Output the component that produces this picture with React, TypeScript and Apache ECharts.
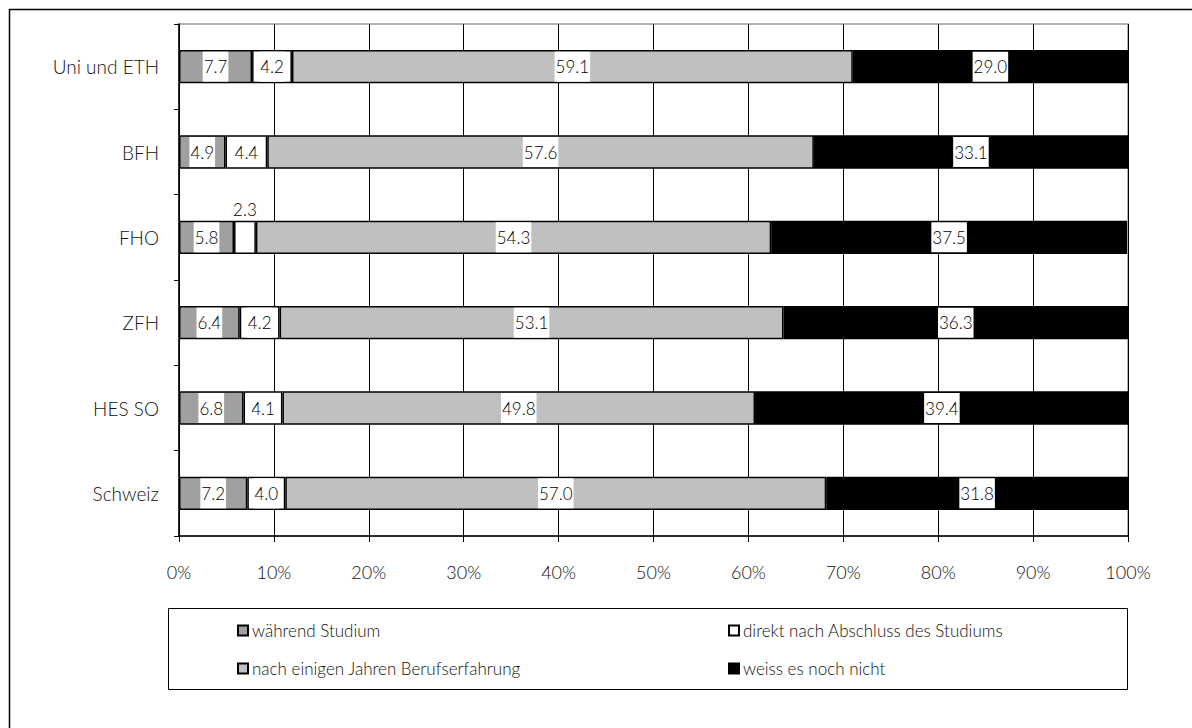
import React, { useEffect, useRef } from "react";
import * as echarts from "echarts";

const categories = ["Uni und ETH", "BFH", "FHO", "ZFH", "HES SO", "Schweiz"];
const seriesNames = [
  "während Studium",
  "direkt nach Abschluss des Studiums",
  "nach einigen Jahren Berufserfahrung",
  "weiss es noch nicht",
];
const waehrend = [7.7, 4.9, 5.8, 6.4, 6.8, 7.2];
const direkt = [4.2, 4.4, 2.3, 4.2, 4.1, 4.0];
const nachJahren = [59.1, 57.6, 54.3, 53.1, 49.8, 57.0];
const weissNicht = [29.0, 33.1, 37.5, 36.3, 39.4, 31.8];
const xTicks = [0, 10, 20, 30, 40, 50, 60, 70, 80, 90, 100];

const colors = ["#a0a0a0", "#ffffff", "#c0c0c0", "#000000"];
const FONT = "Lato";
const WEIGHT = 300;

export default function App() {
  const ref = useRef<HTMLDivElement>(null);
  useEffect(() => {
    if (!ref.current) return;
    const chart = echarts.init(ref.current, null, { renderer: "svg" });
    const valuesList = [waehrend, direkt, nachJahren, weissNicht];
    const series = seriesNames.map((name, i) => ({
      name,
      type: "bar",
      stack: "total",
      barWidth: "39%",
      itemStyle: { color: colors[i], borderColor: "#000", borderWidth: 1.5 },
      label: {
        show: true,
        position: "inside",
        formatter: (p: any) => Number(p.value).toFixed(1),
        color: "#000",
        fontFamily: FONT,
        fontWeight: WEIGHT,
        fontSize: 17,
        lineHeight: 17,
        backgroundColor: "#fff",
        padding: [7, 1, 6, 1],
      },
      data: valuesList[i].map((v) =>
        v < 3
          ? {
              value: v,
              label: { position: "top", distance: 3, backgroundColor: "transparent", padding: 0 },
            }
          : v
      ),
    }));
    const legendText = {
      fontSize: 17,
      fontFamily: FONT,
      fontWeight: WEIGHT,
      color: "#111",
      padding: [0, 0, 0, -1],
    };
    chart.setOption({
      animation: false,
      textStyle: { fontFamily: FONT },
      grid: {
        left: 179,
        top: 24,
        right: 64,
        bottom: 192,
        show: true,
        borderColor: "#999",
        borderWidth: 1.5,
      },
      xAxis: {
        type: "value",
        min: 0,
        max: 100,
        interval: 10,
        axisLine: { show: true, lineStyle: { color: "#000", width: 1.5 } },
        axisTick: { show: true, length: 6, lineStyle: { color: "#000" } },
        splitLine: { show: true, lineStyle: { color: "#000", width: 1 } },
        axisLabel: {
          formatter: (v: number) => (xTicks.includes(v) ? v + "%" : ""),
          color: "#111",
          fontSize: 18,
          fontFamily: FONT,
          fontWeight: WEIGHT,
          margin: 27,
        },
      },
      yAxis: {
        type: "category",
        data: categories,
        inverse: true,
        axisLine: { show: true, lineStyle: { color: "#000", width: 1.5 } },
        axisTick: { show: true, length: 5, lineStyle: { color: "#000" } },
        axisLabel: { color: "#111", fontSize: 19, fontFamily: FONT, fontWeight: WEIGHT, margin: 20 },
      },
      legend: [
        {
          data: [seriesNames[0], seriesNames[2]],
          orient: "vertical",
          left: 232,
          top: 617,
          itemWidth: 10,
          itemHeight: 10,
          itemGap: 21,
          icon: "rect",
          textStyle: legendText,
        },
        {
          data: [seriesNames[1], seriesNames[3]],
          orient: "vertical",
          left: 723,
          top: 617,
          itemWidth: 10,
          itemHeight: 10,
          itemGap: 21,
          icon: "rect",
          textStyle: legendText,
        },
      ],
      graphic: [
        {
          type: "rect",
          shape: { x: 9.5, y: 9.5, width: 1200, height: 1200 },
          style: { fill: "none", stroke: "#000", lineWidth: 1.5 },
          silent: true,
        },
        {
          type: "rect",
          shape: { x: 168.5, y: 608.5, width: 959, height: 81 },
          style: { fill: "none", stroke: "#000", lineWidth: 1 },
          silent: true,
        },
      ],
      series,
    });
    return () => chart.dispose();
  }, []);
  return (
    <div
      ref={ref}
      style={{ position: "absolute", left: 0, top: 0, width: 1192, height: 728, background: "#fff" }}
    />
  );
}
